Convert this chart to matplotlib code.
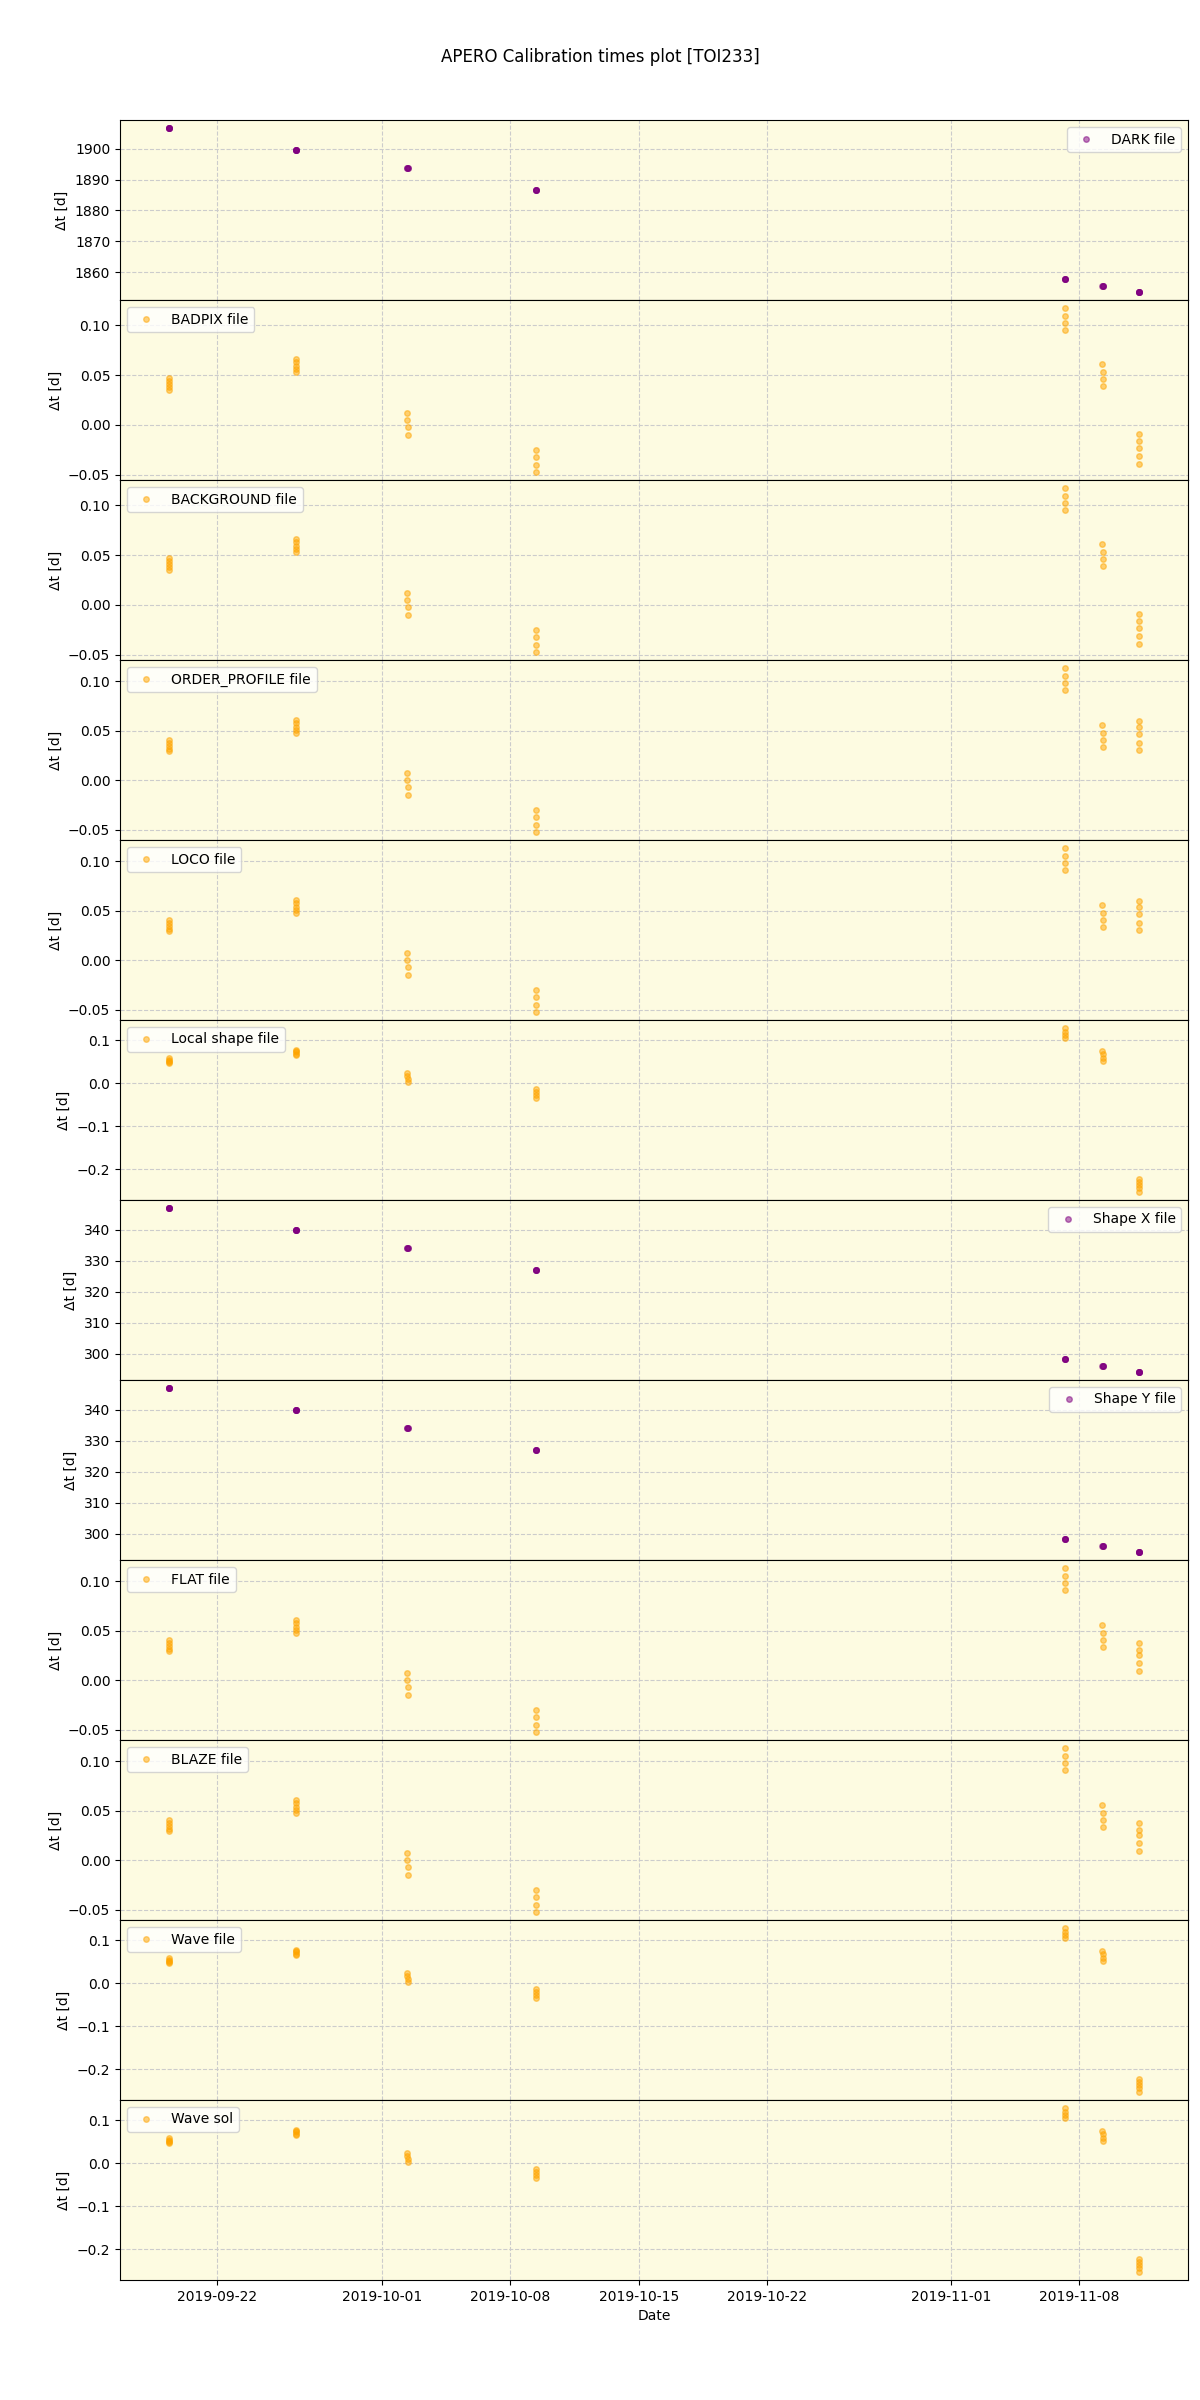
import numpy as np
import pandas as pd
import matplotlib
matplotlib.use('Agg')
import matplotlib.pyplot as plt

# observation times of the science frames (shared by every calibration panel)
obs_times = [
    '2019-09-19 08:55', '2019-09-19 08:59', '2019-09-19 09:03', '2019-09-19 09:08', '2019-09-19 09:12',
    '2019-09-26 07:05', '2019-09-26 07:09', '2019-09-26 07:13', '2019-09-26 07:18', '2019-09-26 07:22',
    '2019-10-02 09:10', '2019-10-02 09:21', '2019-10-02 09:32', '2019-10-02 09:43',
    '2019-10-09 09:00', '2019-10-09 09:11', '2019-10-09 09:22', '2019-10-09 09:33',
    '2019-11-07 05:20', '2019-11-07 05:31', '2019-11-07 05:42', '2019-11-07 05:53',
    '2019-11-09 06:20', '2019-11-09 06:31', '2019-11-09 06:42', '2019-11-09 06:53',
    '2019-11-11 06:00', '2019-11-11 06:11', '2019-11-11 06:22', '2019-11-11 06:33', '2019-11-11 06:44',
]

dark_dt = [1906.6, 1906.6, 1906.6, 1906.6, 1906.6,
           1899.7, 1899.7, 1899.7, 1899.7, 1899.7,
           1893.6, 1893.6, 1893.6, 1893.6,
           1886.6, 1886.6, 1886.6, 1886.6,
           1857.7, 1857.7, 1857.7, 1857.7,
           1855.7, 1855.7, 1855.7, 1855.7,
           1853.7, 1853.7, 1853.7, 1853.7, 1853.7]

badpix_dt = [0.047, 0.044, 0.041, 0.038, 0.035,
             0.066, 0.063, 0.059, 0.056, 0.053,
             0.012, 0.005, -0.002, -0.010,
             -0.025, -0.032, -0.040, -0.047,
             0.117, 0.109, 0.102, 0.095,
             0.061, 0.053, 0.046, 0.039,
             -0.009, -0.016, -0.023, -0.031, -0.039]

background_dt = [0.047, 0.044, 0.041, 0.038, 0.035,
                 0.066, 0.063, 0.059, 0.056, 0.053,
                 0.012, 0.005, -0.002, -0.010,
                 -0.025, -0.032, -0.040, -0.047,
                 0.117, 0.109, 0.102, 0.095,
                 0.061, 0.053, 0.046, 0.039,
                 -0.009, -0.016, -0.023, -0.031, -0.039]

order_profile_dt = [0.041, 0.038, 0.035, 0.032, 0.029,
                    0.061, 0.058, 0.054, 0.051, 0.048,
                    0.007, 0.000, -0.007, -0.015,
                    -0.030, -0.037, -0.045, -0.052,
                    0.113, 0.105, 0.098, 0.091,
                    0.056, 0.048, 0.041, 0.034,
                    0.060, 0.054, 0.047, 0.038, 0.030]

loco_dt = [0.041, 0.038, 0.035, 0.032, 0.029,
           0.061, 0.058, 0.054, 0.051, 0.048,
           0.007, 0.000, -0.007, -0.015,
           -0.030, -0.037, -0.045, -0.052,
           0.113, 0.105, 0.098, 0.091,
           0.056, 0.048, 0.041, 0.034,
           0.060, 0.054, 0.047, 0.038, 0.030]

local_shape_dt = [0.058, 0.055, 0.052, 0.049, 0.046,
                  0.078, 0.075, 0.072, 0.069, 0.066,
                  0.025, 0.017, 0.010, 0.002,
                  -0.013, -0.020, -0.028, -0.035,
                  0.128, 0.120, 0.113, 0.106,
                  0.075, 0.067, 0.059, 0.051,
                  -0.222, -0.229, -0.237, -0.244, -0.252]

shape_x_dt = [347.0, 347.0, 347.0, 347.0, 347.0,
              340.1, 340.1, 340.1, 340.1, 340.1,
              334.0, 334.0, 334.0, 334.0,
              327.0, 327.0, 327.0, 327.0,
              298.2, 298.2, 298.2, 298.2,
              296.1, 296.1, 296.1, 296.1,
              294.1, 294.1, 294.1, 294.1, 294.1]

shape_y_dt = [347.0, 347.0, 347.0, 347.0, 347.0,
              340.1, 340.1, 340.1, 340.1, 340.1,
              334.0, 334.0, 334.0, 334.0,
              327.0, 327.0, 327.0, 327.0,
              298.2, 298.2, 298.2, 298.2,
              296.1, 296.1, 296.1, 296.1,
              294.1, 294.1, 294.1, 294.1, 294.1]

flat_dt = [0.041, 0.038, 0.035, 0.032, 0.029,
           0.061, 0.058, 0.054, 0.051, 0.048,
           0.007, 0.000, -0.007, -0.015,
           -0.030, -0.037, -0.045, -0.052,
           0.113, 0.105, 0.098, 0.091,
           0.056, 0.048, 0.041, 0.034,
           0.038, 0.031, 0.025, 0.017, 0.009]

blaze_dt = [0.041, 0.038, 0.035, 0.032, 0.029,
            0.061, 0.058, 0.054, 0.051, 0.048,
            0.007, 0.000, -0.007, -0.015,
            -0.030, -0.037, -0.045, -0.052,
            0.113, 0.105, 0.098, 0.091,
            0.056, 0.048, 0.041, 0.034,
            0.038, 0.031, 0.025, 0.017, 0.009]

wave_file_dt = [0.058, 0.055, 0.052, 0.049, 0.046,
                0.078, 0.075, 0.072, 0.069, 0.066,
                0.025, 0.017, 0.010, 0.002,
                -0.013, -0.020, -0.028, -0.035,
                0.128, 0.120, 0.113, 0.106,
                0.075, 0.067, 0.059, 0.051,
                -0.222, -0.229, -0.237, -0.244, -0.252]

wave_sol_dt = [0.058, 0.055, 0.052, 0.049, 0.046,
               0.078, 0.075, 0.072, 0.069, 0.066,
               0.025, 0.017, 0.010, 0.002,
               -0.013, -0.020, -0.028, -0.035,
               0.128, 0.120, 0.113, 0.106,
               0.075, 0.067, 0.059, 0.051,
               -0.222, -0.229, -0.237, -0.244, -0.252]

labels = ['DARK file', 'BADPIX file', 'BACKGROUND file', 'ORDER_PROFILE file',
          'LOCO file', 'Local shape file', 'Shape X file', 'Shape Y file',
          'FLAT file', 'BLAZE file', 'Wave file', 'Wave sol']
series = [dark_dt, badpix_dt, background_dt, order_profile_dt, loco_dt,
          local_shape_dt, shape_x_dt, shape_y_dt, flat_dt, blaze_dt,
          wave_file_dt, wave_sol_dt]
colors = ['purple', 'orange', 'orange', 'orange', 'orange', 'orange',
          'purple', 'purple', 'orange', 'orange', 'orange', 'orange']
legend_loc = ['upper right', 'upper left', 'upper left', 'upper left',
              'upper left', 'upper left', 'upper right', 'upper right',
              'upper left', 'upper left', 'upper left', 'upper left']

dates = pd.to_datetime(obs_times)

fig, axes = plt.subplots(12, 1, figsize=(12, 24), sharex=True)
plt.subplots_adjust(left=0.1, right=0.99, top=0.95, bottom=0.05, hspace=0)

for i in range(12):
    ax = axes[i]
    ax.set_facecolor('#FDFBE1')
    ax.plot(dates, series[i], 'o', ms=4, color=colors[i], alpha=0.5,
            label=labels[i])
    ax.set_ylabel('Δt [d]')
    ax.grid(True, linestyle='--', color='#cccccc')
    ax.set_axisbelow(True)
    ax.legend(loc=legend_loc[i])

axes[-1].set_xlabel('Date')
fig.suptitle('APERO Calibration times plot [TOI233]')

plt.savefig('out.png', dpi=100)
